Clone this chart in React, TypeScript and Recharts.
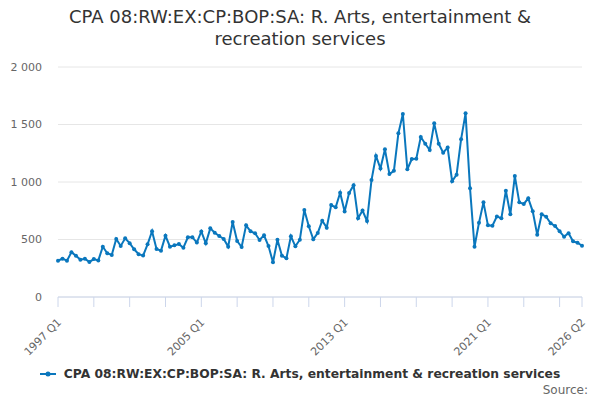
import React from "react";
import {
  LineChart,
  Line,
  XAxis,
  YAxis,
  CartesianGrid,
} from "recharts";

const SERIES_NAME =
  "CPA 08:RW:EX:CP:BOP:SA: R. Arts, entertainment & recreation services";

const FIRST_YEAR = 1997;

// quarterly values, 1997 Q1 .. 2026 Q2
const values = [
  315, 333, 315, 390, 358, 325, 333, 305, 330, 318,
  437, 380, 365, 505, 444, 510, 468, 415, 372, 360,
  458, 572, 417, 403, 532, 437, 449, 460, 429, 519,
  520, 473, 570, 467, 597, 559, 530, 504, 438, 652,
  487, 435, 623, 571, 554, 496, 536, 443, 302, 498,
  359, 336, 528, 441, 498, 757, 615, 502, 557, 663,
  603, 800, 780, 906, 744, 905, 972, 685, 752, 660,
  1017, 1227, 1117, 1284, 1070, 1097, 1423, 1591, 1111, 1200,
  1202, 1391, 1333, 1278, 1510, 1333, 1255, 1299, 1007, 1064,
  1371, 1597, 945, 437, 646, 823, 623, 620, 701, 684,
  924, 719, 1052, 823, 809, 858, 745, 542, 719, 698,
  641, 617, 571, 525, 554, 484, 472, 446,
];

const quarters = values.map(
  (_, i) => `${FIRST_YEAR + Math.floor(i / 4)} Q${(i % 4) + 1}`
);

const tickQuarters = [
  "1997 Q1", "1999 Q1", "2001 Q1", "2003 Q1", "2005 Q1", "2007 Q1",
  "2009 Q1", "2011 Q1", "2013 Q1", "2015 Q1", "2017 Q1", "2019 Q1",
  "2021 Q1", "2023 Q1", "2025 Q1", "2026 Q2",
];

const labelledQuarters = ["1997 Q1", "2005 Q1", "2013 Q1", "2021 Q1", "2026 Q2"];

const yTicks = [0, 500, 1000, 1500, 2000];

const chartData = quarters.map((q, i) => ({ quarter: q, value: values[i] }));

const BLUE = "#0a77bd";
const FONT = "'DejaVu Sans', sans-serif";

const formatThousands = (v: number) =>
  String(v).replace(/\B(?=(\d{3})+(?!\d))/g, " ");

function QuarterTick(props: any) {
  const { x, y, payload } = props;
  if (!labelledQuarters.includes(payload.value)) return null;
  const tx = x + 4;
  const ty = y + 14;
  return (
    <text
      x={tx}
      y={ty}
      textAnchor="end"
      fontFamily={FONT}
      fontSize={11}
      fill="#666"
      transform={`rotate(-45 ${tx} ${ty})`}
    >
      {payload.value}
    </text>
  );
}

function LegendRow() {
  return (
    <div
      style={{
        position: "absolute",
        top: 367,
        left: 0,
        width: 600,
        display: "flex",
        justifyContent: "center",
        alignItems: "center",
        fontSize: 12.3,
        fontWeight: "bold",
        color: "#333",
      }}
    >
      <svg width={20} height={12} style={{ marginRight: 4 }}>
        <line x1={0} y1={6} x2={16} y2={6} stroke={BLUE} strokeWidth={2} />
        <circle cx={8} cy={6} r={2.5} fill={BLUE} />
      </svg>
      <span>{SERIES_NAME}</span>
    </div>
  );
}

export default function App() {
  return (
    <div
      style={{
        position: "absolute",
        left: 0,
        top: 0,
        width: 600,
        height: 400,
        background: "#fff",
        fontFamily: FONT,
      }}
    >
      <div
        style={{
          position: "absolute",
          top: 6,
          left: 0,
          width: 600,
          textAlign: "center",
          fontSize: 18,
          lineHeight: "22px",
          color: "#333",
        }}
      >
        CPA 08:RW:EX:CP:BOP:SA: R. Arts, entertainment &amp;
        <br />
        recreation services
      </div>
      <LineChart
        width={600}
        height={400}
        data={chartData}
        margin={{ top: 67, right: 18, bottom: 43, left: 8 }}
      >
        <CartesianGrid vertical={false} stroke="#e6e6e6" />
        <XAxis
          dataKey="quarter"
          ticks={tickQuarters}
          interval={0}
          tick={<QuarterTick />}
          tickSize={10}
          tickLine={{ stroke: "#ccd6eb" }}
          axisLine={{ stroke: "#ccd6eb" }}
          height={60}
        />
        <YAxis
          width={50}
          domain={[0, 2000]}
          ticks={yTicks}
          tickFormatter={formatThousands}
          axisLine={false}
          tickLine={false}
          tickSize={0}
          tickMargin={16}
          tick={{ fontFamily: FONT, fontSize: 11, fill: "#666" }}
        />
        <Line
          type="linear"
          dataKey="value"
          name={SERIES_NAME}
          stroke={BLUE}
          strokeWidth={2}
          dot={{ r: 2, fill: BLUE, stroke: BLUE, strokeWidth: 0 }}
          isAnimationActive={false}
        />
      </LineChart>
      <LegendRow />
      <div
        style={{
          position: "absolute",
          right: 12,
          top: 383,
          fontSize: 12,
          color: "#666",
        }}
      >
        Source:
      </div>
    </div>
  );
}
